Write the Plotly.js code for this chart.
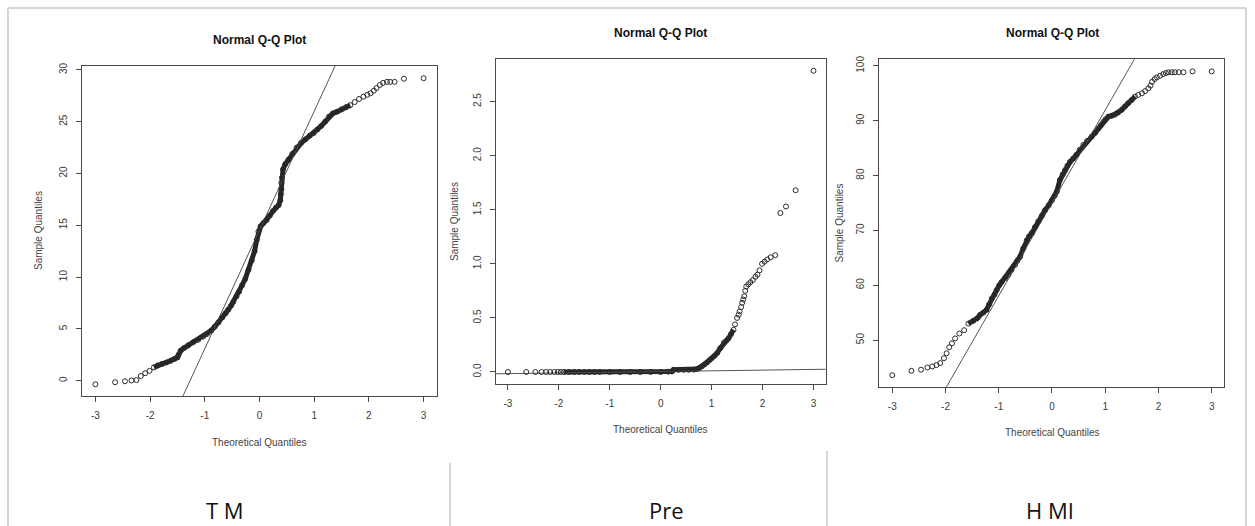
<!DOCTYPE html>
<html>
<head>
<meta charset="utf-8">
<script src="https://cdn.plot.ly/plotly-3.0.1.min.js"></script>
<style>
  html, body { margin: 0; padding: 0; background: #ffffff; }
  #chart { width: 1255px; height: 526px; }
</style>
</head>
<body>
<div id="chart"></div>
<script>
// ---------- data ----------
// Panel labels
const panelLabels = ["T M", "Pre", "H MI"];
const plotTitle = "Normal Q-Q Plot";
const xTitle = "Theoretical Quantiles";
const yTitle = "Sample Quantiles";

// Panel 1 (T M): theoretical vs sample quantiles
const tmX = [-3.0, -2.64, -2.46, -2.34, -2.25, -2.17, -2.09, -2.01, -1.93, -1.86, -1.78, -1.70, -1.62, -1.55, -1.50, -1.48, -1.44, -1.38, -1.30, -1.21, -1.12, -1.03, -0.96, -0.88, -0.82, -0.75, -0.68, -0.62, -0.57, -0.52, -0.48, -0.42, -0.37, -0.32, -0.26, -0.20, -0.14, -0.09, -0.05, -0.02, 0.02, 0.07, 0.13, 0.19, 0.25, 0.30, 0.35, 0.38, 0.39, 0.40, 0.40, 0.41, 0.43, 0.47, 0.53, 0.60, 0.68, 0.76, 0.84, 0.92, 0.99, 1.06, 1.13, 1.20, 1.27, 1.34, 1.42, 1.50, 1.58, 1.66, 1.74, 1.82, 1.90, 1.97, 2.03, 2.09, 2.14, 2.20, 2.26, 2.33, 2.39, 2.47, 2.64, 3.0];
const tmY = [-0.35, -0.15, -0.06, 0.02, 0.06, 0.45, 0.72, 0.95, 1.28, 1.48, 1.62, 1.76, 1.92, 2.10, 2.25, 2.50, 2.90, 3.15, 3.42, 3.72, 3.95, 4.25, 4.50, 4.85, 5.20, 5.62, 6.10, 6.50, 6.86, 7.25, 7.60, 8.15, 8.60, 9.20, 9.83, 10.70, 11.60, 12.50, 13.60, 14.40, 14.90, 15.20, 15.50, 15.95, 16.40, 16.70, 16.95, 17.40, 18.00, 18.50, 19.10, 19.60, 20.40, 20.90, 21.35, 21.90, 22.50, 22.95, 23.30, 23.65, 23.90, 24.25, 24.60, 25.00, 25.50, 25.80, 25.97, 26.20, 26.40, 26.60, 26.90, 27.20, 27.42, 27.60, 27.75, 28.00, 28.25, 28.55, 28.75, 28.85, 28.85, 28.85, 29.15, 29.20];

// Panel 2 (Pre)
const preX = [-3.0, -2.64, -2.46, -2.34, -2.25, -2.17, -2.09, -2.02, -1.96, -1.90, -1.80, -1.70, -1.60, -1.50, -1.40, -1.30, -1.20, -1.00, -0.80, -0.60, -0.40, -0.20, 0.0, 0.15, 0.22, 0.25, 0.35, 0.45, 0.55, 0.65, 0.71, 0.76, 0.81, 0.86, 0.91, 0.96, 1.01, 1.06, 1.11, 1.17, 1.24, 1.29, 1.33, 1.38, 1.43, 1.46, 1.50, 1.53, 1.55, 1.58, 1.60, 1.62, 1.64, 1.66, 1.68, 1.72, 1.76, 1.81, 1.86, 1.90, 1.94, 1.99, 2.04, 2.09, 2.16, 2.25, 2.35, 2.46, 2.65, 3.0];
const preY = [0, 0, 0, 0, 0, 0, 0, 0, 0, 0, 0, 0, 0, 0, 0, 0, 0, 0, 0, 0, 0, 0, 0, 0.003, 0.005, 0.02, 0.02, 0.02, 0.02, 0.022, 0.028, 0.038, 0.052, 0.07, 0.089, 0.11, 0.13, 0.15, 0.176, 0.22, 0.27, 0.29, 0.31, 0.35, 0.39, 0.44, 0.50, 0.53, 0.56, 0.60, 0.64, 0.67, 0.70, 0.75, 0.79, 0.81, 0.83, 0.85, 0.88, 0.90, 0.94, 1.00, 1.02, 1.04, 1.06, 1.08, 1.47, 1.53, 1.68, 2.785];

// Panel 3 (H MI)
const hmX = [-3.0, -2.64, -2.46, -2.34, -2.25, -2.17, -2.10, -2.03, -1.98, -1.93, -1.88, -1.82, -1.74, -1.65, -1.57, -1.48, -1.40, -1.35, -1.29, -1.23, -1.18, -1.13, -1.08, -1.04, -0.99, -0.945, -0.88, -0.82, -0.76, -0.695, -0.65, -0.60, -0.54, -0.475, -0.43, -0.38, -0.32, -0.26, -0.19, -0.13, -0.06, 0.0, 0.05, 0.09, 0.15, 0.20, 0.245, 0.29, 0.34, 0.40, 0.46, 0.52, 0.59, 0.66, 0.745, 0.81, 0.87, 0.92, 0.965, 1.01, 1.06, 1.12, 1.18, 1.24, 1.31, 1.37, 1.43, 1.50, 1.56, 1.62, 1.69, 1.75, 1.81, 1.85, 1.88, 1.93, 1.97, 2.03, 2.09, 2.14, 2.19, 2.25, 2.31, 2.38, 2.47, 2.64, 3.0];
const hmY = [43.6, 44.4, 44.6, 45.0, 45.2, 45.45, 45.8, 46.7, 47.6, 48.7, 49.4, 50.3, 51.2, 51.8, 53.0, 53.5, 54.0, 54.6, 55.0, 55.5, 56.5, 57.6, 58.3, 59.1, 60.0, 60.6, 61.3, 61.9, 62.8, 63.7, 64.5, 65.2, 66.7, 68.2, 68.9, 69.5, 70.6, 71.6, 72.7, 73.7, 74.6, 75.5, 76.3, 77.1, 79.2, 80.2, 81.0, 81.8, 82.5, 83.1, 83.8, 84.7, 85.6, 86.3, 87.1, 87.8, 88.6, 89.2, 89.8, 90.3, 90.75, 90.9, 91.1, 91.5, 92.0, 92.6, 93.2, 93.8, 94.4, 94.7, 95.0, 95.4, 95.9, 96.4, 97.1, 97.6, 97.9, 98.2, 98.5, 98.7, 98.84, 98.84, 98.84, 98.84, 98.84, 99.0, 99.0];

// qqline (intercept, slope) per panel
const qqIntercept = [14.55, 0.0044, 75.02];
const qqSlope = [11.46, 0.0065, 16.93];

// axis ticks
const xTicks = [-3, -2, -1, 0, 1, 2, 3];
const yTicks1 = [0, 5, 10, 15, 20, 25, 30];
const yTicks2 = [0.0, 0.5, 1.0, 1.5, 2.0, 2.5];
const yTicks3 = [50, 60, 70, 80, 90, 100];

// ---------- layout helpers (pixel geometry) ----------
const W = 1255, H = 526;
const fx = x => x / W;
const fy = y => 1 - y / H;

const panels = [
  { X: tmX, Y: tmY, box: [82, 66, 437, 396], xr: [-3.245, 3.245], yr: [-1.48, 30.38], yt: yTicks1, yfmt: "d", band: [-1.95, 1.72],
    title: [259, 40], xt: [259, 442], ytl: [39, 231], lab: [225, 510] },
  { X: preX, Y: preY, box: [495.7, 59.3, 825.7, 384], xr: [-3.24, 3.24], yr: [-0.111, 2.891], yt: yTicks2, yfmt: ".1f", band: [-1.95, 1.45],
    title: [660.5, 33], xt: [660.5, 429], ytl: [455, 222], lab: [666, 510] },
  { X: hmX, Y: hmY, box: [879.3, 59.3, 1224.3, 386.7], xr: [-3.244, 3.237], yr: [41.5, 101.2], yt: yTicks3, yfmt: "d", band: [-1.6, 1.6],
    title: [1052, 33], xt: [1052, 432], ytl: [838.5, 223], lab: [1050, 510] }
];

const traces = [];
const layout = {
  width: W, height: H,
  margin: { l: 0, r: 0, t: 0, b: 0, pad: 0 },
  paper_bgcolor: "#ffffff",
  plot_bgcolor: "#ffffff",
  showlegend: false,
  font: { family: "Liberation Sans, Arial, sans-serif", size: 10, color: "#333" },
  annotations: [],
  shapes: []
};

const axisStyle = {
  showgrid: false, zeroline: false, showline: true, mirror: true,
  linecolor: "#4a4a4a", linewidth: 1,
  ticks: "outside", ticklen: 5, tickwidth: 1, tickcolor: "#4a4a4a",
  tickfont: { family: "Liberation Sans, Arial, sans-serif", size: 10, color: "#3a3a3a" },
  fixedrange: true
};

panels.forEach((p, i) => {
  const n = i + 1;
  const xa = "x" + (n === 1 ? "" : n), ya = "y" + (n === 1 ? "" : n);
  const xKey = "xaxis" + (n === 1 ? "" : n), yKey = "yaxis" + (n === 1 ? "" : n);

  layout[xKey] = Object.assign({}, axisStyle, {
    domain: [fx(p.box[0]), fx(p.box[2])],
    range: p.xr, tickvals: xTicks, ticktext: xTicks.map(String),
    anchor: ya, ticklabelstandoff: 5
  });
  layout[yKey] = Object.assign({}, axisStyle, {
    domain: [fy(p.box[3]), fy(p.box[1])],
    range: p.yr, tickvals: p.yt, tickformat: p.yfmt,
    anchor: xa, tickangle: -90, ticklabelstandoff: 5
  });

  // dense band (overlapping points) drawn as a thick line through the same data
  const bx = [], by = [];
  p.X.forEach((v, k) => { if (v >= p.band[0] && v <= p.band[1]) { bx.push(v); by.push(p.Y[k]); } });
  traces.push({
    x: bx, y: by, xaxis: xa, yaxis: ya, type: "scatter", mode: "lines",
    line: { color: "rgba(20,20,20,0.93)", width: 5, shape: "linear" },
    hoverinfo: "skip"
  });

  // qqline
  const lx = [p.xr[0] - 1, p.xr[1] + 1];
  traces.push({
    x: lx, y: lx.map(v => qqIntercept[i] + qqSlope[i] * v),
    xaxis: xa, yaxis: ya, type: "scatter", mode: "lines",
    line: { color: "#555", width: 1 }, hoverinfo: "skip"
  });

  // points (open circles)
  traces.push({
    x: p.X, y: p.Y, xaxis: xa, yaxis: ya, type: "scatter", mode: "markers",
    marker: { symbol: "circle-open", size: 5, color: "#2b2b2b", line: { width: 1, color: "#2b2b2b" } },
    hoverinfo: "skip"
  });

  // titles
  layout.annotations.push({
    xref: "paper", yref: "paper", x: fx(p.title[0]), y: fy(p.title[1]),
    xanchor: "center", yanchor: "middle", showarrow: false, text: "<b>" + plotTitle + "</b>",
    font: { family: "Liberation Sans, Arial, sans-serif", size: 12, color: "#111" }
  });
  layout.annotations.push({
    xref: "paper", yref: "paper", x: fx(p.xt[0]), y: fy(p.xt[1]),
    xanchor: "center", yanchor: "middle", showarrow: false, text: xTitle,
    font: { family: "Liberation Sans, Arial, sans-serif", size: 10, color: "#444" }
  });
  layout.annotations.push({
    xref: "paper", yref: "paper", x: fx(p.ytl[0]), y: fy(p.ytl[1]),
    xanchor: "center", yanchor: "middle", showarrow: false, text: yTitle, textangle: -90,
    font: { family: "Liberation Sans, Arial, sans-serif", size: 10, color: "#444" }
  });
  layout.annotations.push({
    xref: "paper", yref: "paper", x: fx(p.lab[0]), y: fy(p.lab[1]),
    xanchor: "center", yanchor: "middle", showarrow: false, text: panelLabels[i],
    font: { family: "Open Sans, Noto Sans, sans-serif", size: 22, color: "#111" }
  });
});

// document frame lines
const frameColor = "#d6d6d6";
const seg = (x0, y0, x1, y1) => ({
  type: "line", xref: "paper", yref: "paper",
  x0: fx(x0), y0: fy(y0), x1: fx(x1), y1: fy(y1),
  line: { color: frameColor, width: 2 }, layer: "below"
});
layout.shapes.push(seg(8, 8, 1246, 8));
layout.shapes.push(seg(8, 8, 8, 526));
layout.shapes.push(seg(1246, 8, 1246, 526));
layout.shapes.push(seg(450, 463, 450, 526));
layout.shapes.push(seg(827, 451, 827, 526));

Plotly.newPlot("chart", traces, layout, { staticPlot: true, displayModeBar: false });
</script>
</body>
</html>
